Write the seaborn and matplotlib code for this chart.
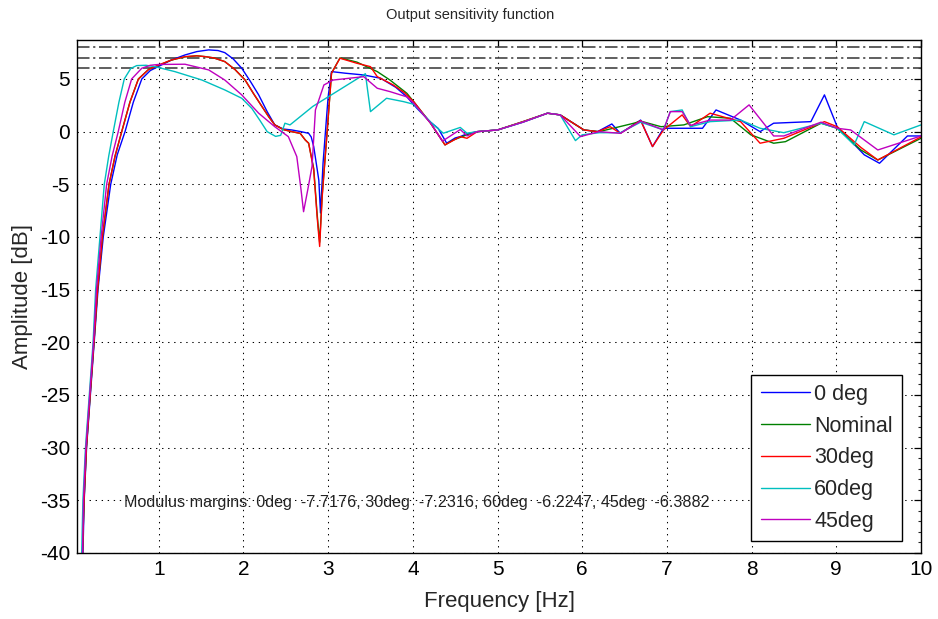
import matplotlib
matplotlib.use("Agg")
import matplotlib.pyplot as plt
import numpy as np
import pandas as pd
import seaborn as sns
from matplotlib.ticker import MultipleLocator

# ---------------- data ----------------
series_names = ["0 deg", "Nominal", "30deg", "60deg", "45deg"]
series_colors = ["#0000ff", "#008000", "#ff0000", "#00bfbf", "#bf00bf"]

freq_0deg = [0.105, 0.12, 0.148, 0.193, 0.238, 0.283, 0.345, 0.433, 0.51, 0.602, 0.70, 0.80, 0.90, 1.00, 1.15,
             1.31, 1.45, 1.59, 1.70, 1.78, 1.88, 1.98, 2.08, 2.18, 2.28, 2.37, 2.47, 2.57, 2.68, 2.77,
             2.80, 2.83, 2.86, 2.89, 2.91, 2.94, 2.97, 3.00, 3.04, 3.20, 3.42, 3.62, 3.80, 3.93, 4.05,
             4.21, 4.30, 4.40, 4.50, 4.56, 4.64, 4.76, 5.00, 5.30, 5.59, 5.74, 6.02, 6.18, 6.35, 6.45,
             6.69, 6.83, 6.96, 7.16, 7.42, 7.58, 7.87, 8.10, 8.26, 8.70, 8.86, 9.01, 9.33, 9.51, 9.84, 10.0]
amp_0deg = [-40, -35, -30, -25, -20, -15, -10, -5, -2.2, 0, 2.8, 5, 5.8, 6.2, 6.8,
            7.28, 7.6, 7.76, 7.7, 7.5, 6.9, 6.02, 4.8, 3.49, 1.9, 0.64, 0.25, 0.16, 0, -0.16,
            -0.5, -1.42, -3, -4.6, -7.72, -3, 0.16, 3.3, 5.7, 5.55, 5.38, 5.07, 4.2, 3.3, 2.2,
            0.9, 0.3, -1.1, -0.6, -0.47, -0.2, 0, 0.16, 0.9, 1.75, 1.59, 0.16, 0, 0.73, -0.16,
            1.1, -1.42, 0.32, 0.32, 0.32, 2.06, 1.1, 0, 0.8, 0.95, 3.49, 0.47, -2.2, -3.0, -0.41, -0.41]

freq_nom = [0.10, 0.118, 0.146, 0.19, 0.235, 0.278, 0.335, 0.413, 0.485, 0.563, 0.66, 0.76, 0.88, 1.00, 1.15,
            1.31, 1.45, 1.55, 1.65, 1.78, 1.90, 2.02, 2.12, 2.22, 2.30, 2.37, 2.47, 2.57, 2.67, 2.73,
            2.77, 2.83, 2.87, 2.90, 2.93, 2.99, 3.04, 3.14, 3.34, 3.58, 3.73, 3.93, 4.01, 4.21, 4.38,
            4.48, 4.64, 4.76, 5.00, 5.30, 5.59, 5.74, 6.02, 6.20, 6.61, 6.69, 6.93, 7.20, 7.48, 7.75,
            7.99, 8.26, 8.40, 8.82, 9.01, 9.29, 9.49, 10.0]
amp_nom = [-40, -35, -30, -25, -20, -15, -10, -5, -2.3, 0, 2.8, 5, 5.9, 6.3, 6.8,
           7.1, 7.2, 7.12, 7.0, 6.65, 5.9, 4.9, 3.6, 2.37, 1.4, 0.64, 0.2, 0, -0.16, -0.79,
           -1.1, -3.5, -7.8, -10.5, -6.0, 0.16, 5.55, 7.0, 6.6, 5.7, 4.9, 3.64, 2.85, 0.8, -1.26,
           -0.79, -0.3, 0, 0.16, 0.95, 1.75, 1.59, 0.16, 0, 0.8, 1.0, 0.47, 0.64, 1.42, 1.27,
           -0.3, -1.1, -0.95, 0.8, 0.32, -1.74, -2.69, -0.63]

freq_30deg = [0.10, 0.118, 0.146, 0.19, 0.235, 0.278, 0.335, 0.413, 0.485, 0.563, 0.66, 0.76, 0.88, 1.00, 1.15,
              1.31, 1.45, 1.55, 1.65, 1.78, 1.90, 2.02, 2.12, 2.22, 2.30, 2.37, 2.47, 2.57, 2.67, 2.73,
              2.77, 2.83, 2.87, 2.90, 2.93, 2.99, 3.04, 3.14, 3.34, 3.50, 3.58, 3.77, 3.90, 4.01, 4.21,
              4.38, 4.56, 4.64, 4.76, 5.00, 5.30, 5.59, 5.74, 6.02, 6.18, 6.33, 6.45, 6.69, 6.83, 6.96,
              7.18, 7.28, 7.51, 7.87, 8.10, 8.38, 8.86, 9.01, 9.29, 9.49, 10.0]
amp_30deg = [-40, -35, -30, -25, -20, -15, -10, -5, -2.3, 0, 2.8, 5, 5.9, 6.33, 6.8,
             7.12, 7.2, 7.12, 7.0, 6.65, 5.9, 4.9, 3.6, 2.37, 1.4, 0.64, 0.2, 0, -0.16, -0.79,
             -1.1, -3.64, -8.07, -10.9, -6.17, 0.16, 5.55, 6.97, 6.49, 6.17, 5.22, 4.43, 3.7, 2.85, 0.8,
             -1.26, -0.47, -0.63, 0, 0.16, 0.95, 1.75, 1.59, 0.16, 0, 0.47, -0.16, 1.05, -1.42, 0.16,
             1.59, 0.47, 1.75, 0.95, -1.1, -0.63, 0.95, 0.47, -1.5, -2.69, -0.5]

freq_60deg = [0.09, 0.105, 0.135, 0.18, 0.225, 0.255, 0.306, 0.357, 0.41, 0.463, 0.53, 0.593, 0.67, 0.74, 0.85,
              0.956, 1.19, 1.51, 1.78, 1.98, 2.10, 2.20, 2.28, 2.38, 2.44, 2.49, 2.55, 2.82, 3.00, 3.44,
              3.50, 3.69, 3.89, 4.01, 4.21, 4.36, 4.56, 4.64, 4.76, 5.00, 5.30, 5.59, 5.74, 5.92, 6.00,
              6.20, 6.45, 6.69, 6.96, 7.04, 7.18, 7.28, 7.51, 7.87, 8.10, 8.38, 8.82, 9.01, 9.21, 9.33,
              9.68, 10.0]
amp_60deg = [-40, -35, -30, -25, -20, -15, -10, -5, -2.3, 0, 2.8, 5, 6.0, 6.27, 6.3,
             6.17, 5.7, 4.9, 3.96, 3.17, 2.2, 1.0, 0.0, -0.45, -0.35, 0.8, 0.64, 2.4, 3.3, 5.5,
             1.9, 3.17, 2.85, 2.6, 0.9, -0.15, 0.4, -0.15, 0, 0.16, 0.9, 1.75, 1.59, -0.85, -0.3,
             -0.1, -0.1, 0.9, 0.16, 1.9, 2.06, 0.47, 0.95, 1.1, 0.32, -0.1, 0.8, 0.32, -1.26, 0.95,
             -0.3, 0.64]

freq_45deg = [0.10, 0.112, 0.14, 0.185, 0.23, 0.265, 0.32, 0.385, 0.45, 0.522, 0.60, 0.68, 0.80, 0.90, 1.00,
              1.31, 1.59, 1.78, 1.98, 2.18, 2.37, 2.53, 2.63, 2.68, 2.71, 2.76, 2.81, 2.85, 2.89, 2.95,
              3.06, 3.42, 3.58, 3.73, 3.93, 4.01, 4.21, 4.35, 4.56, 4.64, 4.76, 5.00, 5.30, 5.59, 5.74,
              5.98, 6.20, 6.45, 6.69, 6.96, 7.04, 7.18, 7.28, 7.51, 7.75, 7.97, 8.26, 8.38, 8.82, 9.01,
              9.17, 9.49, 10.0]
amp_45deg = [-40, -35, -30, -25, -20, -15, -10, -5, -2.3, 0, 2.8, 5, 6.02, 6.3, 6.38,
             6.4, 5.86, 4.9, 3.49, 1.75, 0.47, -0.47, -2.37, -5.5, -7.6, -5.5, -3.3, 2.06, 3.0, 4.43,
             4.9, 5.22, 4.12, 3.8, 3.3, 2.7, 0.8, -0.9, 0.2, -0.4, 0, 0.16, 0.9, 1.75, 1.59,
             -0.47, 0, -0.16, 1.0, 0.16, 1.9, 1.9, 0.6, 1.1, 1.1, 2.54, -0.41, -0.41, 0.9, 0.32,
             0.16, -1.74, -0.41]

margin_levels = [8.0, 7.0, 6.0]
margin_labels = ["0deg", "30deg", "60deg", "45deg"]
margin_values = ["-7.7176", "-7.2316", "-6.2247", "-6.3882"]

x_ticks = [1, 2, 3, 4, 5, 6, 7, 8, 9, 10]
y_ticks = [5, 0, -5, -10, -15, -20, -25, -30, -35, -40]

# ---------------- figure ----------------
sns.set_theme(style="white")
plt.rcParams["font.family"] = ["Liberation Sans", "DejaVu Sans"]

fig = plt.figure(figsize=(9.38, 6.19), dpi=100)
ax = fig.add_axes([77 / 938, 1 - 553 / 619, 844 / 938, 513 / 619])

all_f = [freq_0deg, freq_nom, freq_30deg, freq_60deg, freq_45deg]
all_a = [amp_0deg, amp_nom, amp_30deg, amp_60deg, amp_45deg]
frames = []
for name, f, a in zip(series_names, all_f, all_a):
    frames.append(pd.DataFrame({"Frequency": f, "Amplitude": a, "series": name}))
df = pd.concat(frames, ignore_index=True)

handles = []
for name, col in zip(series_names, series_colors):
    sub = df[df["series"] == name]
    sns.lineplot(data=sub, x="Frequency", y="Amplitude", color=col, lw=1.0,
                 estimator=None, sort=False, ax=ax, legend=False)
    handles.append(ax.lines[-1])

for lvl in margin_levels:
    ax.axhline(lvl, color="#444444", lw=1.2, linestyle=(0, (7.5, 2.2, 1.3, 2.2)), zorder=1)

ax.set_xlim(0.035, 10)
ax.set_ylim(-40, 8.7)
ax.set_xticks(x_ticks)
ax.set_yticks(y_ticks)
ax.set_xticklabels([str(t) for t in x_ticks])
ax.set_yticklabels([str(t) for t in y_ticks])
ax.yaxis.set_minor_locator(MultipleLocator(1))

ax.grid(True, which="major", color="black", linestyle=(0, (1.3, 4.5)), lw=0.75)
ax.tick_params(axis="both", which="major", direction="in", length=5, width=0.9,
               labelsize=15, top=True, right=True, colors="black")
ax.tick_params(axis="y", which="major", pad=5)
ax.tick_params(axis="x", which="major", pad=5)
ax.tick_params(axis="y", which="minor", direction="in", length=2.5, width=0.8,
               left=False, right=True)
for sp in ax.spines.values():
    sp.set_color("black")
    sp.set_linewidth(1.0)

ax.set_title("Output sensitivity function", fontsize=10.5, pad=15)
ax.title.set_x((470 - 77) / 844)
ax.set_xlabel("Frequency [Hz]", fontsize=16)
ax.set_ylabel("Amplitude [dB]", fontsize=16)
ax.xaxis.set_label_coords(0.5, -0.075)
ax.yaxis.set_label_coords(-0.052, 0.5)

note = "Modulus margins: " + ", ".join(f"{l}  {v}" for l, v in zip(margin_labels, margin_values))
ax.text(0.59, -35.2, note, ha="left", va="center", fontsize=11.6,
        family=["Liberation Sans Narrow", "Liberation Sans", "DejaVu Sans"], color="#222222")

leg = ax.legend(handles, series_names, loc="lower right", bbox_to_anchor=(0.9775, 0.0234),
                bbox_transform=ax.transAxes, borderaxespad=0, fontsize=15.5, frameon=True,
                fancybox=False, shadow=False, handlelength=2.3, handletextpad=0.2,
                labelspacing=0.5, borderpad=0.42)
leg.get_frame().set_edgecolor("black")
leg.get_frame().set_linewidth(1.0)
leg.get_frame().set_facecolor("white")
leg.get_frame().set_alpha(1.0)

fig.savefig("out.png", dpi=100, facecolor="white")
